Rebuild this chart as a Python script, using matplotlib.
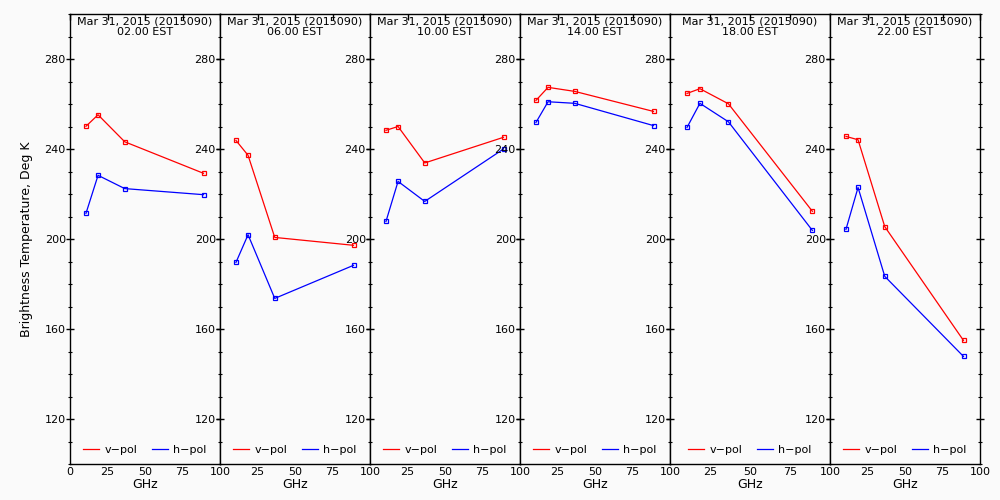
import matplotlib
matplotlib.use("Agg")
import matplotlib.pyplot as plt
from matplotlib.ticker import MultipleLocator, FixedLocator

freqs = [10.65, 18.7, 36.5, 89.0]
times = ["02.00 EST", "06.00 EST", "10.00 EST", "14.00 EST", "18.00 EST", "22.00 EST"]
date_label = "Mar 31, 2015 (2015090)"

vpol = [
    [250.1, 255.2, 243.2, 229.2],
    [243.8, 237.2, 200.7, 197.2],
    [248.3, 250.0, 233.8, 245.2],
    [261.6, 267.4, 265.6, 256.7],
    [264.7, 266.8, 260.1, 212.3],
    [245.6, 244.1, 205.5, 154.9],
]
hpol = [
    [211.4, 228.3, 222.4, 219.7],
    [189.6, 201.9, 173.6, 188.3],
    [207.8, 225.6, 216.7, 240.0],
    [251.8, 261.0, 260.3, 250.4],
    [249.6, 260.3, 252.1, 203.8],
    [204.3, 222.9, 183.4, 147.8],
]
yticks = [120, 160, 200, 240, 280]

W, H = 1000, 500
fig = plt.figure(figsize=(10, 5), dpi=100, facecolor="#fafafa")
plt.rcParams['font.family'] = ['DejaVu Sans']

edges = [70, 220, 370, 520, 670, 830, 980]
top_px, bot_px = 14, 464
fs = 8

for i in range(6):
    x0, x1 = edges[i], edges[i + 1]
    last = (i == 5)
    ax = fig.add_axes([x0 / W, (H - bot_px) / H, (x1 - x0) / W, (bot_px - top_px) / H])
    ax.set_facecolor("#fafafa")
    ax.plot(freqs, vpol[i], color="red", lw=0.9, marker="s", ms=3.5, mfc="none",
            mec="red", mew=0.9, label="v\u2212pol")
    ax.plot(freqs, hpol[i], color="blue", lw=0.9, marker="s", ms=3.5, mfc="none",
            mec="blue", mew=0.9, label="h\u2212pol")
    ax.set_xlim(0, 100)
    ax.set_ylim(100, 300)
    ax.xaxis.set_major_locator(FixedLocator([0, 25, 50, 75, 100] if i == 0 else [25, 50, 75, 100]))
    ax.yaxis.set_major_locator(FixedLocator(yticks))
    ax.yaxis.set_minor_locator(MultipleLocator(10))
    ax.tick_params(axis="y", which="major", direction="inout", length=6, width=1,
                   labelsize=fs, pad=0, right=True, labelright=False)
    ax.tick_params(axis="y", which="minor", direction="inout", length=3, width=0.8,
                   right=last)
    ax.tick_params(axis="x", which="major", direction="in", length=4, width=1,
                   labelsize=fs, pad=2, top=True)
    for t in ax.xaxis.get_major_ticks():
        t.tick1line.set_visible(False)
    for s in ax.spines.values():
        s.set_linewidth(1.0)
        s.set_color("black")
    ax.text(0.5, 1 - 3 / (bot_px - top_px), date_label + "\n" + times[i],
            transform=ax.transAxes, ha="center", va="top", fontsize=fs,
            linespacing=1.05)
    ax.set_xlabel("GHz", fontsize=9, labelpad=1)
    ax.legend(loc="lower center", ncol=2, frameon=False, fontsize=fs,
              handlelength=1.45, handletextpad=0.45, columnspacing=1.35,
              borderaxespad=0.45)
    for h in ax.get_legend().legend_handles:
        h.set_marker("")
    if i == 0:
        ax.set_ylabel("Brightness Temperature, Deg K", fontsize=9, labelpad=8)

fig.savefig("out.png", dpi=100, facecolor="#fafafa")
